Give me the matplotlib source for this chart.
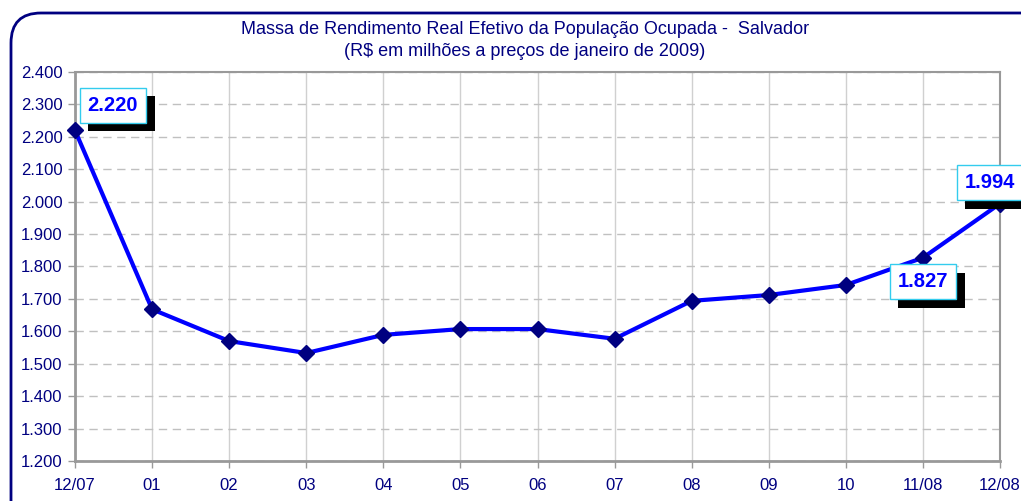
import matplotlib
matplotlib.use("Agg")
import matplotlib.pyplot as plt
import matplotlib.patheffects as pe
from matplotlib.patches import FancyBboxPatch
from matplotlib.transforms import IdentityTransform

# data
meses = ["12/07", "01", "02", "03", "04", "05", "06", "07", "08", "09", "10", "11/08", "12/08"]
massa = [2220, 1668, 1570, 1533, 1589, 1607, 1607, 1577, 1694, 1712, 1743, 1827, 1994]
yticks = list(range(1200, 2401, 100))
rotulos = {0: (38, 25), 11: (0, -24), 12: (-10, 21)}  # index -> offset in pixels

navy = "#000080"
plt.rcParams['font.family'] = ['Liberation Sans', 'DejaVu Sans']

fig = plt.figure(figsize=(10.21, 5.01), dpi=100)
W, H = 1021, 501
ax = fig.add_axes([75 / W, (H - 461) / H, (1000 - 75) / W, (461 - 72) / H])

x = list(range(len(meses)))
ax.plot(x, massa, color="#0000FF", lw=3, marker="D", ms=8.5,
        mfc=navy, mec=navy, zorder=3, clip_on=False)

ax.set_xlim(0, len(meses) - 1)
ax.set_ylim(1200, 2400)
ax.set_xticks(x)
ax.set_xticklabels(meses)
ax.set_yticks(yticks)
ax.set_yticklabels(["{:,}".format(v).replace(",", ".") for v in yticks])
ax.tick_params(axis="both", colors="#999999", labelcolor=navy, labelsize=12,
               length=5, width=1)
ax.tick_params(axis="x", pad=7)
ax.tick_params(axis="y", pad=4)

ax.yaxis.grid(True, color="#c0c0c0", ls=(0, (6, 4)), lw=1)
ax.xaxis.grid(True, color="#d0d0d0", ls="-", lw=1)
ax.set_axisbelow(True)
for s in ["left", "bottom"]:
    ax.spines[s].set_color("#999999")
    ax.spines[s].set_linewidth(2)
for s in ["top", "right"]:
    ax.spines[s].set_color("#999999")
    ax.spines[s].set_linewidth(1.5)

for i, (dx, dy) in rotulos.items():
    t = ax.annotate("{:,}".format(massa[i]).replace(",", "."), (x[i], massa[i]),
                    xytext=(dx, dy), textcoords="offset pixels",
                    ha="center", va="center", fontsize=14.5, fontweight="bold",
                    color="#0000FF", annotation_clip=False, zorder=5,
                    bbox=dict(boxstyle="square,pad=0.4", fc="white", ec="#33ccee", lw=1))
    t.get_bbox_patch().set_path_effects(
        [pe.SimplePatchShadow(offset=(6, -6), shadow_rgbFace="black", alpha=1), pe.Normal()])

fig.text(525 / W, 1 - 30 / H, "Massa de Rendimento Real Efetivo da População Ocupada -  Salvador",
         ha="center", va="center", color=navy, fontsize=13)
fig.text(525 / W, 1 - 51 / H, "(R$ em milhões a preços de janeiro de 2009)",
         ha="center", va="center", color=navy, fontsize=13)

border = FancyBboxPatch((11, -60), 1100, H - 13 + 60, boxstyle="round,pad=0,rounding_size=30",
                        transform=IdentityTransform(), fc="none", ec=navy, lw=2)
fig.patches.append(border)

fig.savefig("out.png", dpi=100)
